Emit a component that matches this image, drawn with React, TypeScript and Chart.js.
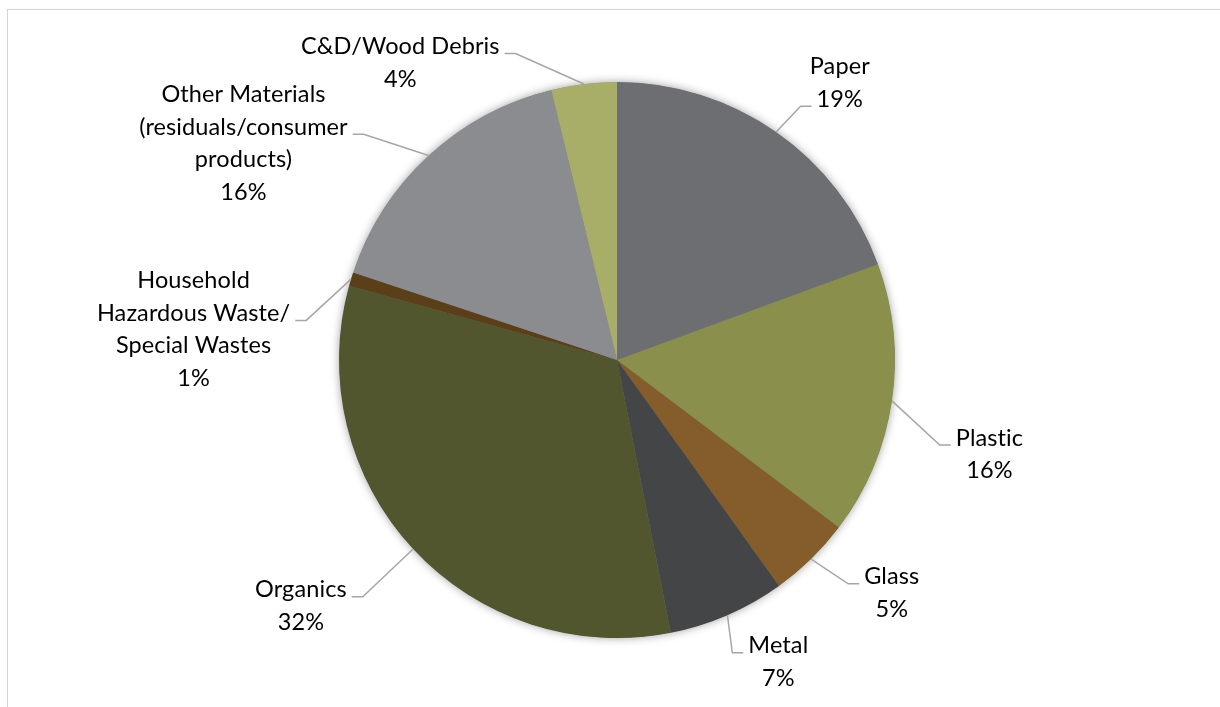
import React, { useEffect, useRef } from "react";
import { Chart, registerables } from "chart.js";

Chart.register(...registerables);

// ---- Data ----
const CATEGORIES = [
  "Paper",
  "Plastic",
  "Glass",
  "Metal",
  "Organics",
  "Household Hazardous Waste/ Special Wastes",
  "Other Materials (residuals/consumer products)",
  "C&D/Wood Debris",
];
const LABEL_LINES = [
  ["Paper"],
  ["Plastic"],
  ["Glass"],
  ["Metal"],
  ["Organics"],
  ["Household", "Hazardous Waste/", "Special Wastes"],
  ["Other Materials", "(residuals/consumer", "products)"],
  ["C&D/Wood Debris"],
];
const VALUES = [19.4, 15.9, 4.8, 6.8, 32.4, 0.8, 16.1, 3.8];
const COLORS = [
  "#6d6e71",
  "#8a8f4b",
  "#845d2b",
  "#444547",
  "#52562e",
  "#5a3f19",
  "#8b8c8f",
  "#a8ae67",
];

// ---- Label layout (polar: degrees clockwise from top, distance in radii) ----
const LABEL_LAYOUT = [
  { angle: 38.8, dist: 1.279 },
  { angle: 104.2, dist: 1.382 },
  { angle: 130.3, dist: 1.296 },
  { angle: 151.9, dist: 1.232 },
  { angle: 232.1, dist: 1.441 },
  { angle: 274.1, dist: 1.527 },
  { angle: 300.1, dist: 1.553 },
  { angle: 323.9, dist: 1.323 },
];

const FONT = '23.5px Lato, "Open Sans", sans-serif';
const LINE_H = 32.5;

const outLabels = {
  id: "outLabels",
  beforeDatasetsDraw(chart: any) {
    const meta = chart.getDatasetMeta(0);
    if (!meta.data.length) return;
    const a = meta.data[0];
    const { x, y, outerRadius } = a.getProps(["x", "y", "outerRadius"], true);
    const ctx = chart.ctx;
    ctx.save();
    ctx.shadowColor = "rgba(0,0,0,0.4)";
    ctx.shadowBlur = 10;
    ctx.beginPath();
    ctx.arc(x, y, outerRadius - 0.5, 0, Math.PI * 2);
    ctx.fillStyle = "#777";
    ctx.fill();
    ctx.restore();
  },
  afterDatasetsDraw(chart: any) {
    const meta = chart.getDatasetMeta(0);
    const ctx = chart.ctx;
    const total = VALUES.reduce((s, v) => s + v, 0);
    ctx.save();
    ctx.font = FONT;
    try {
      (ctx as any).letterSpacing = "0.1px";
    } catch (e) {}
    meta.data.forEach((arc: any, i: number) => {
      const { x, y, outerRadius, startAngle, endAngle } = arc.getProps(
        ["x", "y", "outerRadius", "startAngle", "endAngle"],
        true
      );
      const mid = (startAngle + endAngle) / 2;
      const ax = x + Math.cos(mid) * outerRadius;
      const ay = y + Math.sin(mid) * outerRadius;
      const lay = LABEL_LAYOUT[i];
      const th = ((lay.angle - 90) * Math.PI) / 180;
      const cx = x + Math.cos(th) * lay.dist * outerRadius;
      const cy = y + Math.sin(th) * lay.dist * outerRadius;
      const pct = Math.round((VALUES[i] / total) * 100) + "%";
      const lines = [...LABEL_LINES[i], pct];
      const n = lines.length;
      const top = cy - (n * LINE_H) / 2;
      const bottom = top + n * LINE_H;

      // text
      ctx.fillStyle = "#000000";
      ctx.textAlign = "center";
      ctx.textBaseline = "middle";
      lines.forEach((ln, k) => {
        ctx.fillText(ln, cx, top + LINE_H * (k + 0.5));
      });

      // leader line
      let k: number;
      if (ay > bottom) k = n - 1;
      else if (ay < top) k = 0;
      else k = Math.floor((n - 1) / 2);
      const w = ctx.measureText(lines[k]).width;
      const attachY = top + LINE_H * (k + 0.5) + 7;
      let edgeX: number, elbowX: number;
      if (cx > ax) {
        edgeX = cx - w / 2 - 5;
        elbowX = edgeX - 11;
      } else {
        edgeX = cx + w / 2 + 5;
        elbowX = edgeX + 11;
      }
      ctx.beginPath();
      ctx.moveTo(ax, ay);
      ctx.lineTo(elbowX, attachY);
      ctx.lineTo(edgeX, attachY);
      ctx.strokeStyle = "#a6a6a6";
      ctx.lineWidth = 1.5;
      ctx.stroke();
    });
    ctx.restore();
  },
};

export default function App() {
  const ref = useRef<HTMLCanvasElement | null>(null);
  useEffect(() => {
    if (!ref.current) return;
    const chart = new Chart(ref.current, {
      type: "pie",
      data: {
        labels: CATEGORIES,
        datasets: [
          {
            data: VALUES,
            backgroundColor: COLORS,
            borderWidth: 0,
          },
        ],
      },
      options: {
        responsive: false,
        animation: false,
        devicePixelRatio: 1,
        layout: { padding: { top: 72, bottom: 72, left: 0, right: 0 } },
        plugins: {
          legend: { display: false },
          tooltip: { enabled: false },
        },
      },
      plugins: [outLabels],
    });
    return () => chart.destroy();
  }, []);

  return (
    <div
      style={{
        position: "fixed",
        left: 7,
        top: 9,
        width: 1240,
        height: 720,
        border: "1px solid #d4d4d4",
        background: "#fff",
      }}
    >
      <canvas ref={ref} width={1218} height={700} style={{ display: "block" }} />
    </div>
  );
}
